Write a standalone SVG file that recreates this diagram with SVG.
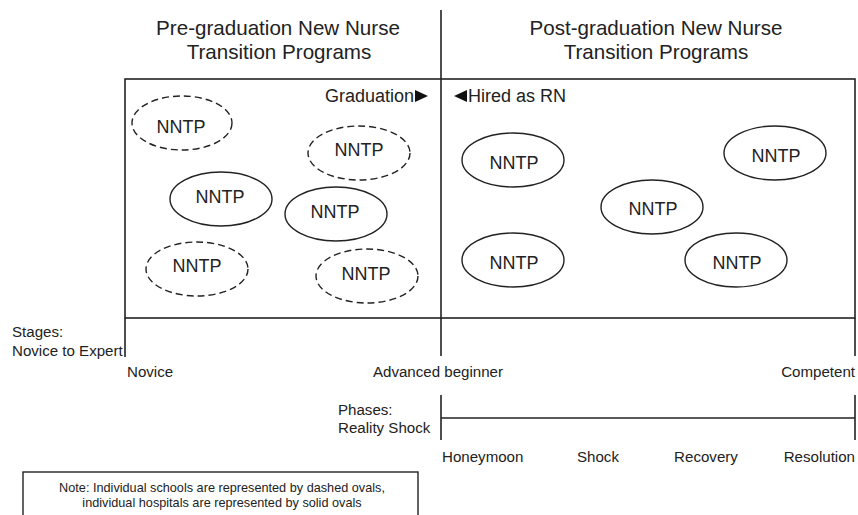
<svg xmlns="http://www.w3.org/2000/svg" width="858" height="515" viewBox="0 0 858 515">
<style>
text{font-family:"Liberation Sans",Arial,sans-serif;fill:#222}
.t{font-size:20.6px;text-anchor:middle}
.n{font-size:18px;text-anchor:middle}
.l{font-size:18px}
.s{font-size:15.1px}
.note{font-size:12.7px;text-anchor:middle}
.ln{stroke:#222;stroke-width:1.6;fill:none}
.dash{fill:none;stroke:#222;stroke-width:1.4;stroke-dasharray:7,4}
.solid{fill:none;stroke:#222;stroke-width:1.4}
</style>
<rect width="858" height="515" fill="#fff"/>
<g id="titles">
<text class="t" x="278" y="35">Pre-graduation New Nurse</text>
<text class="t" x="279" y="59">Transition Programs</text>
<text class="t" x="656" y="35">Post-graduation New Nurse</text>
<text class="t" x="656" y="59">Transition Programs</text>
</g>
<g id="connectors">
<rect class="ln" x="125" y="79" width="730" height="239"/>
<line class="ln" x1="125" y1="318" x2="125" y2="357"/>
<line class="ln" x1="855" y1="318" x2="855" y2="356"/>
<line class="ln" x1="441" y1="10" x2="441" y2="356"/>
<line class="ln" x1="441" y1="395" x2="441" y2="440"/>
<line class="ln" x1="855" y1="395" x2="855" y2="440"/>
<line class="ln" x1="441" y1="418" x2="855" y2="418"/>
</g>
<g id="markers">
<text class="l" x="325" y="102">Graduation</text>
<polygon points="415,90 428,96 415,102" fill="#111"/>
<polygon points="467,90 454,96 467,102" fill="#111"/>
<text class="l" x="468" y="102">Hired as RN</text>
</g>
<g id="school1"><ellipse class="dash" cx="182" cy="123" rx="50" ry="27"/><text class="n" x="181" y="133">NNTP</text></g>
<g id="school2"><ellipse class="dash" cx="359" cy="153" rx="51" ry="27"/><text class="n" x="359" y="156">NNTP</text></g>
<g id="hospitalL1"><ellipse class="solid" cx="221" cy="199" rx="51" ry="27"/><text class="n" x="220" y="203">NNTP</text></g>
<g id="hospitalL2"><ellipse class="solid" cx="336" cy="214" rx="51" ry="27"/><text class="n" x="335" y="218">NNTP</text></g>
<g id="school3"><ellipse class="dash" cx="197" cy="269" rx="51" ry="27"/><text class="n" x="197" y="272">NNTP</text></g>
<g id="school4"><ellipse class="dash" cx="367" cy="276" rx="51" ry="27"/><text class="n" x="366" y="280">NNTP</text></g>
<g id="hospital1"><ellipse class="solid" cx="513" cy="160" rx="51" ry="27"/><text class="n" x="514" y="169">NNTP</text></g>
<g id="hospital2"><ellipse class="solid" cx="775" cy="153" rx="51" ry="27"/><text class="n" x="776" y="162">NNTP</text></g>
<g id="hospital3"><ellipse class="solid" cx="652" cy="207" rx="51" ry="27"/><text class="n" x="653" y="215">NNTP</text></g>
<g id="hospital4"><ellipse class="solid" cx="513" cy="260" rx="51" ry="27"/><text class="n" x="514" y="269">NNTP</text></g>
<g id="hospital5"><ellipse class="solid" cx="736" cy="260" rx="51" ry="27"/><text class="n" x="737" y="269">NNTP</text></g>
<g id="stages">
<text class="s" x="12" y="337">Stages:</text>
<text class="s" x="12" y="356">Novice to Expert</text>
<text class="s" x="127" y="377">Novice</text>
<text class="s" x="438" y="377" text-anchor="middle">Advanced beginner</text>
<text class="s" x="855" y="377" text-anchor="end">Competent</text>
</g>
<g id="phases">
<text class="s" x="338" y="415">Phases:</text>
<text class="s" x="338" y="433">Reality Shock</text>
<text class="s" x="442" y="462">Honeymoon</text>
<text class="s" x="598" y="462" text-anchor="middle">Shock</text>
<text class="s" x="706" y="462" text-anchor="middle">Recovery</text>
<text class="s" x="855" y="462" text-anchor="end">Resolution</text>
</g>
<g id="note">
<rect x="23" y="472" width="395" height="50" fill="none" stroke="#222" stroke-width="1.4"/>
<text class="note" x="222" y="492">Note: Individual schools are represented by dashed ovals,</text>
<text class="note" x="222" y="507">individual hospitals are represented by solid ovals</text>
</g>
</svg>
